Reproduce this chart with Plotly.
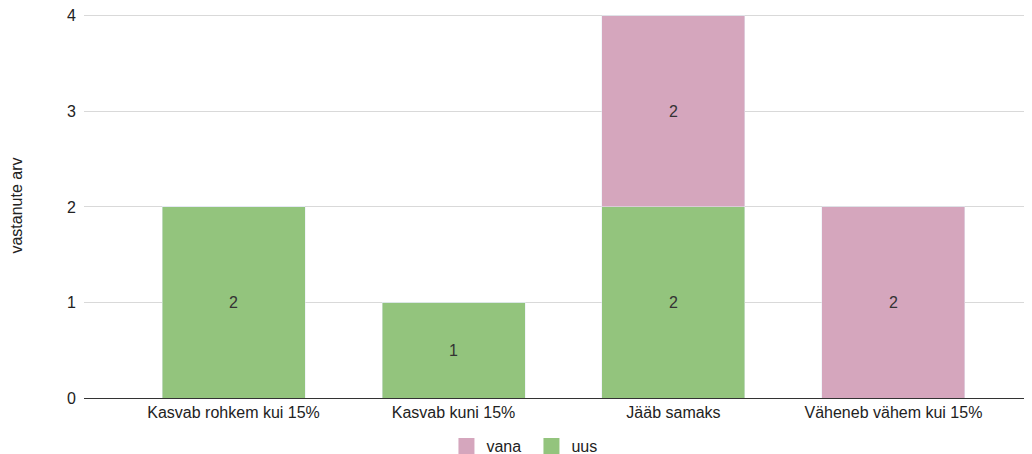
import plotly.graph_objects as go

categories = ["Kasvab rohkem kui 15%", "Kasvab kuni 15%", "Jääb samaks", "Väheneb vähem kui 15%"]
uus = [2, 1, 2, 0]
vana = [0, 0, 2, 2]

GREEN = "#93c47d"
PINK = "#d5a6bd"

def labels(vals):
    return [str(v) if v else "" for v in vals]

FS = 16
fig = go.Figure()
fig.add_trace(go.Bar(
    x=categories, y=uus, name="uus", marker_color=GREEN, showlegend=False,
    text=labels(uus), textposition="inside", insidetextanchor="middle",
    textfont=dict(color="#333333", size=FS), width=0.65,
))
fig.add_trace(go.Bar(
    x=categories, y=vana, name="vana", marker_color=PINK, showlegend=False,
    text=labels(vana), textposition="inside", insidetextanchor="middle",
    textfont=dict(color="#333333", size=FS), width=0.65,
))
# legend entries with larger square swatches
for name, col in [("vana", PINK), ("uus", GREEN)]:
    fig.add_trace(go.Scatter(
        x=[categories[0]], y=[None], mode="markers", name=name,
        marker=dict(symbol="square", size=17, color=col), hoverinfo="skip",
    ))

fig.update_layout(
    barmode="stack",
    width=1024, height=446,
    margin=dict(l=76, r=0, t=5, b=56, autoexpand=False),
    paper_bgcolor="white", plot_bgcolor="white",
    font=dict(family="Liberation Sans, Arial, sans-serif", size=FS, color="#222222"),
    showlegend=True,
    legend=dict(orientation="h", x=0.472, xanchor="center", y=-0.125, yanchor="middle",
                traceorder="normal", itemsizing="trace", entrywidth=40,
                font=dict(size=FS, color="#222222")),
    uniformtext=dict(mode="show", minsize=FS),
)
fig.update_xaxes(
    range=[-0.68, 3.63], showgrid=False, showline=True, linecolor="#333333", linewidth=1,
    ticks="", tickfont=dict(size=FS, color="#222222"), automargin=False,
)
fig.update_yaxes(
    range=[0, 4.03], tickvals=[0, 1, 2, 3, 4], showgrid=True, gridcolor="#d9d9d9", gridwidth=1,
    zeroline=False, showline=False, ticks="", ticklabelstandoff=7,
    ticklabeloverflow="allow",
    tickfont=dict(size=FS, color="#222222"), automargin=False,
    title=dict(text="vastanute arv", font=dict(size=FS, color="#222222"), standoff=40),
)

fig.write_html("out.html")
